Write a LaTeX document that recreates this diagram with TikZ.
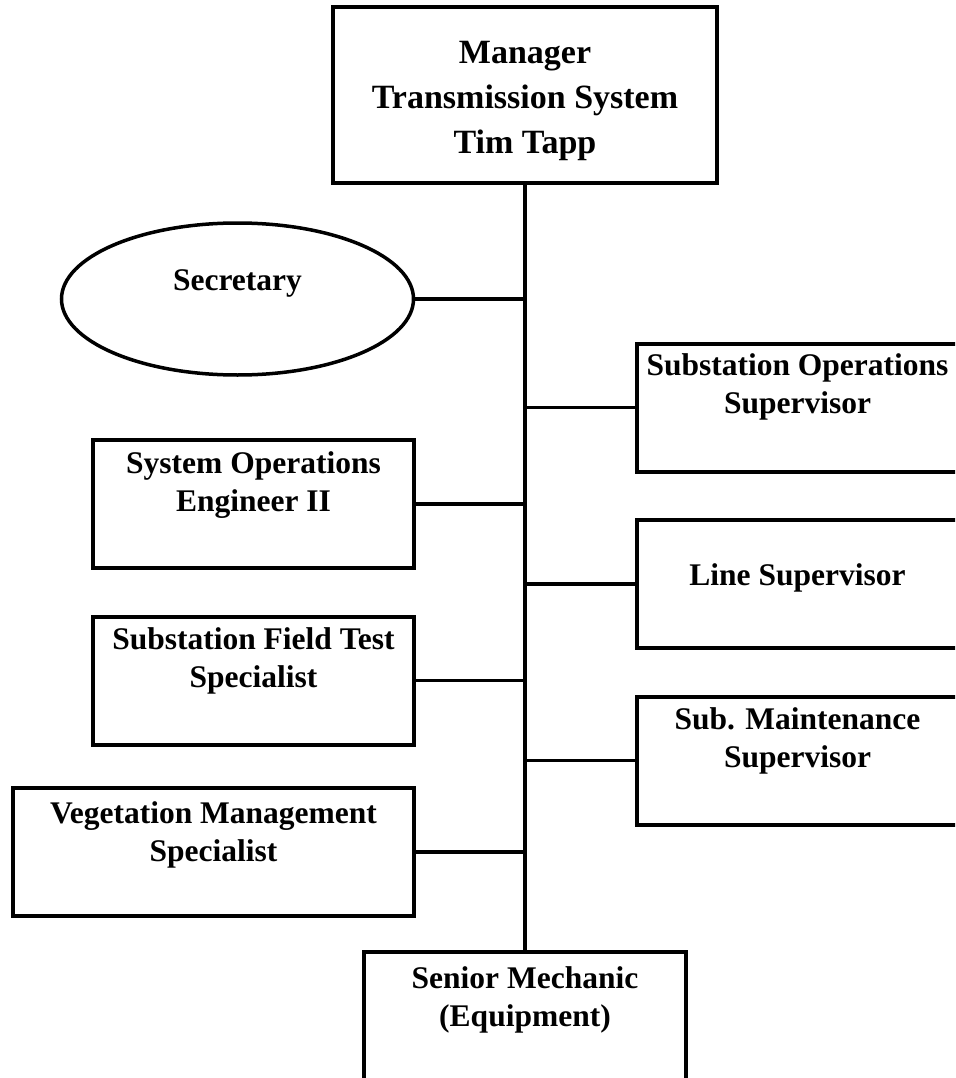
\documentclass[tikz,border=0pt]{standalone}
\usepackage{fontspec}
\setmainfont{Liberation Serif}
\usetikzlibrary{shapes.geometric}

\begin{document}
\begin{tikzpicture}[x=1pt, y=-1pt,
    box/.style={draw, line width=4pt, rectangle, minimum width=321pt, minimum height=128pt, inner sep=0pt},
    txt/.style={anchor=north, align=center, inner sep=0pt, font=\bfseries\fontsize{31.5}{38}\selectfont},
    link/.style={line width=3.5pt}]
    \useasboundingbox (0, 0) rectangle (955, 1078);
    \clip (0, 0) rectangle (955, 1078);

    \node[box, minimum width=384pt, minimum height=176pt] (mgr) at (525, 95) {};
    \node[draw, ellipse, line width=3.5pt, minimum width=352pt, minimum height=152pt, inner sep=0pt] (sec) at (237.5, 299) {};
    \node[box] (subops) at (797.5, 407.5) {};
    \node[box] (sysops) at (253.5, 504) {};
    \node[box] (linesup) at (797.5, 584) {};
    \node[box] (fieldtest) at (253.5, 680.5) {};
    \node[box] (submaint) at (797.5, 760.5) {};
    \node[box, minimum width=401pt] (veg) at (213.5, 852) {};
    \node[box, minimum width=322pt] (mech) at (525, 1016) {};

    \node[txt, font=\bfseries\fontsize{34}{45}\selectfont] (mgr-t) at ([yshift=-36pt]mgr.north)
      {Manager\\Transmission System\\Tim Tapp};
    \node[txt, anchor=center] (sec-t) at ([yshift=16pt]sec.center) {Secretary};
    \node[txt] (subops-t) at ([yshift=-12pt]subops.north) {Substation Operations\\Supervisor};
    \node[txt] (sysops-t) at ([yshift=-13pt]sysops.north) {System Operations\\Engineer II};
    \node[txt] (linesup-t) at ([yshift=-45pt]linesup.north) {Line Supervisor};
    \node[txt] (fieldtest-t) at ([yshift=-13pt]fieldtest.north) {Substation Field Test\\Specialist};
    \node[txt] (submaint-t) at ([yshift=-13pt]submaint.north) {Sub. Maintenance\\Supervisor};
    \node[txt] (veg-t) at ([yshift=-15pt]veg.north) {Vegetation Management\\Specialist};
    \node[txt] (mech-t) at ([yshift=-16pt]mech.north) {Senior Mechanic\\(Equipment)};

    \draw[line width=4pt] (mgr.south) -- (mech.north);
    \foreach \n in {sec, sysops, fieldtest, veg}
      \draw[link] (\n.east) -- (\n.east -| mgr.south);
    \foreach \n in {subops, linesup, submaint}
      \draw[link] (\n.west) -- (\n.west -| mgr.south);
\end{tikzpicture}
\end{document}
